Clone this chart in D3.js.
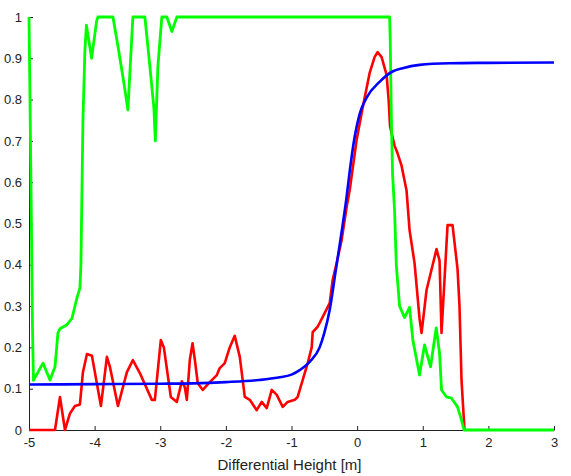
<!DOCTYPE html>
<html>
<head>
<meta charset="utf-8">
<script src="https://cdn.jsdelivr.net/npm/d3@7/dist/d3.min.js"></script>
<style>
  html, body { margin: 0; padding: 0; background: #fff; }
  svg { display: block; }
  .axis text { font-family: "Liberation Sans", Arial, sans-serif; font-size: 13px; fill: #222; }
  .axis path, .axis line { stroke: #222; stroke-width: 1; }
</style>
</head>
<body>
<svg id="chart" width="571" height="476"></svg>
<script>
// Axis ticks
const xTicks = [-5, -4, -3, -2, -1, 0, 1, 2, 3];
const yTicks = [0, 0.1, 0.2, 0.3, 0.4, 0.5, 0.6, 0.7, 0.8, 0.9, 1];
const yTickLabels = ["0", "0.1", "0.2", "0.3", "0.4", "0.5", "0.6", "0.7", "0.8", "0.9", "1"];
const xTitle = "Differential Height [m]";

// Red series
const redX = [-5.000, -4.604, -4.528, -4.452, -4.376, -4.300, -4.224, -4.178, -4.117, -4.041,
  -3.965, -3.904, -3.813, -3.767, -3.645, -3.508, -3.417, -3.311, -3.128, -3.082,
  -2.991, -2.945, -2.839, -2.747, -2.671, -2.626, -2.595, -2.549, -2.508, -2.473,
  -2.428, -2.352, -2.245, -2.138, -2.093, -2.017, -1.941, -1.865, -1.788, -1.712,
  -1.636, -1.530, -1.454, -1.377, -1.301, -1.225, -1.134, -1.058, -0.951, -0.906,
  -0.830, -0.753, -0.692, -0.677, -0.601, -0.495, -0.418, -0.373, -0.312, -0.236,
  -0.160, -0.114, -0.008, 0.084, 0.190, 0.266, 0.312, 0.373, 0.449, 0.480,
  0.502, 0.571, 0.616, 0.677, 0.753, 0.799, 0.875, 0.951, 0.982, 1.058,
  1.210, 1.256, 1.286, 1.378, 1.454, 1.530, 1.560, 1.591, 1.636];
const redY = [0, 0, 0.08, 0, 0.04, 0.058, 0.062, 0.14, 0.184, 0.18,
  0.112, 0.058, 0.177, 0.153, 0.058, 0.14, 0.169, 0.138, 0.073, 0.073,
  0.218, 0.2, 0.08, 0.068, 0.118, 0.104, 0.073, 0.17, 0.21, 0.17,
  0.113, 0.097, 0.116, 0.133, 0.15, 0.162, 0.2, 0.228, 0.177, 0.08,
  0.073, 0.048, 0.068, 0.053, 0.097, 0.085, 0.056, 0.068, 0.073, 0.08,
  0.121, 0.162, 0.2, 0.237, 0.25, 0.283, 0.307, 0.363, 0.404, 0.46,
  0.54, 0.58, 0.702, 0.78, 0.864, 0.903, 0.915, 0.903, 0.86, 0.8,
  0.735, 0.688, 0.67, 0.64, 0.58, 0.484, 0.404, 0.27, 0.235, 0.339,
  0.438, 0.41, 0.235, 0.496, 0.496, 0.39, 0.3, 0.12, 0];

// Green series
const greenX = [-5.000, -4.970, -4.947, -4.932, -4.787, -4.680, -4.604, -4.559, -4.528, -4.422,
  -4.346, -4.269, -4.224, -4.209, -4.178, -4.148, -4.125, -4.046, -3.970, -3.950,
  -3.721, -3.645, -3.554, -3.493, -3.417, -3.234, -3.158, -3.097, -3.075, -3.036,
  -2.976, -2.900, -2.823, -2.747, 0.495, 0.505, 0.521, 0.540, 0.571, 0.597,
  0.647, 0.723, 0.799, 0.849, 0.951, 1.027, 1.119, 1.205, 1.256, 1.286,
  1.362, 1.438, 1.530, 1.591, 1.629, 3.000];
const greenY = [1, 0.6, 0.25, 0.12, 0.162, 0.121, 0.153, 0.235, 0.245, 0.255,
  0.27, 0.32, 0.344, 0.4, 0.75, 0.92, 0.98, 0.9, 0.99, 1,
  1, 0.93, 0.84, 0.775, 1, 1, 0.88, 0.78, 0.7, 0.88,
  1, 1, 0.965, 1, 1, 0.94, 0.76, 0.62, 0.53, 0.4,
  0.3, 0.272, 0.297, 0.218, 0.133, 0.206, 0.153, 0.247, 0.186, 0.097,
  0.08, 0.077, 0.056, 0.024, 0, 0];

// Blue series
const blueX = [-5.0, -4.0, -3.0, -2.5, -2.0, -1.5, -1.2, -1.0, -0.875, -0.723,
  -0.571, -0.5, -0.419, -0.327, -0.236, -0.160, -0.114, -0.053, 0.038, 0.145,
  0.342, 0.540, 0.693, 0.951, 1.408, 2.0, 3.0];
const blueY = [0.110, 0.111, 0.112, 0.113, 0.116, 0.121, 0.127, 0.134, 0.145, 0.165,
  0.2, 0.235, 0.29, 0.385, 0.48, 0.565, 0.625, 0.695, 0.765, 0.805,
  0.843, 0.868, 0.876, 0.884, 0.888, 0.889, 0.89];

const width = 571, height = 476;
const margin = { top: 17, right: 17, bottom: 46, left: 29 };
const innerW = width - margin.left - margin.right;
const innerH = height - margin.top - margin.bottom;

const svg = d3.select("#chart");
const g = svg.append("g").attr("transform", `translate(${margin.left},${margin.top})`);

const x = d3.scaleLinear().domain([-5, 3]).range([0, innerW]);
const y = d3.scaleLinear().domain([0, 1]).range([innerH, 0]);

const zip = (xs, ys) => xs.map((v, i) => [v, ys[i]]);
const line = d3.line().x(d => x(d[0])).y(d => y(d[1]));
const smooth = d3.line().x(d => x(d[0])).y(d => y(d[1])).curve(d3.curveMonotoneX);

// Axes: left and bottom only, ticks pointing into the plot
g.append("g")
  .attr("class", "axis")
  .attr("transform", `translate(0,${innerH})`)
  .call(d3.axisBottom(x).tickValues(xTicks).tickFormat(d3.format("d"))
    .tickSizeInner(-4).tickSizeOuter(0).tickPadding(8));

g.append("g")
  .attr("class", "axis")
  .call(d3.axisLeft(y).tickValues(yTicks).tickFormat((d, i) => yTickLabels[i])
    .tickSizeInner(-4).tickSizeOuter(0).tickPadding(7));

g.selectAll(".axis text").text(function () { return this.textContent.replace("\u2212", "-"); });

g.append("text")
  .attr("x", innerW / 2 - 2)
  .attr("y", innerH + 40)
  .attr("text-anchor", "middle")
  .style("font-family", "\"Liberation Sans\", Arial, sans-serif")
  .style("font-size", "15px")
  .style("fill", "#222")
  .text(xTitle);

// Series
g.append("path").datum(zip(redX, redY))
  .attr("fill", "none").attr("stroke", "#ff0000").attr("stroke-width", 2.6)
  .attr("stroke-linejoin", "round").attr("d", line);

g.append("path").datum(zip(greenX, greenY))
  .attr("fill", "none").attr("stroke", "#00ff00").attr("stroke-width", 2.8)
  .attr("stroke-linejoin", "round").attr("d", line);

g.append("path").datum(zip(blueX, blueY))
  .attr("fill", "none").attr("stroke", "#0000ff").attr("stroke-width", 2.6)
  .attr("stroke-linejoin", "round").attr("d", smooth);
</script>
</body>
</html>
